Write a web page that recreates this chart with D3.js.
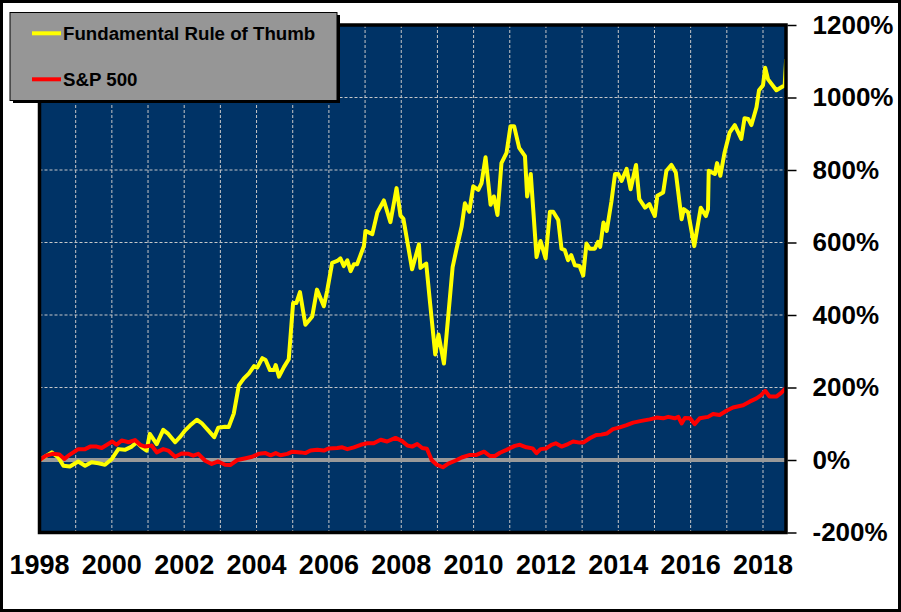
<!DOCTYPE html>
<html>
  <head>
    <meta charset="utf-8" />
    <title>Fundamental Rule of Thumb vs S&amp;P 500</title>
    <script src="https://cdn.jsdelivr.net/npm/d3@7"></script>
    <style type="text/css">
      body { margin: 0; background: #fff; }
      text { font-family: Arial, "Liberation Sans", sans-serif; font-weight: bold; }
    </style>
  </head>

  <body>
    <svg id="chart" width="901" height="612"></svg>
    <script type="text/javascript">
      // cumulative return, % -- [decimal year, value]
      var ruleOfThumb = [
        [1998.0, 0], [1998.34, 21], [1998.52, 7], [1998.66, -16], [1998.84, -18],
        [1999.07, -4], [1999.26, -16], [1999.44, -6], [1999.63, -9], [1999.81, -13],
        [2000.0, 3], [2000.18, 30], [2000.36, 28], [2000.55, 37], [2000.69, 49],
        [2000.83, 35], [2000.96, 26], [2001.05, 72], [2001.24, 44], [2001.42, 83],
        [2001.56, 72], [2001.75, 49], [2001.88, 63], [2002.02, 81], [2002.16, 95],
        [2002.35, 111], [2002.48, 102], [2002.67, 81], [2002.83, 63], [2002.94, 89],
        [2003.13, 92], [2003.23, 91], [2003.37, 128], [2003.51, 206], [2003.65, 225],
        [2003.79, 239], [2003.93, 259], [2004.02, 255], [2004.16, 281], [2004.25, 276],
        [2004.37, 248], [2004.48, 248], [2004.53, 262], [2004.62, 230], [2004.76, 257],
        [2004.89, 278], [2005.01, 433], [2005.1, 433], [2005.2, 463], [2005.35, 373],
        [2005.54, 396], [2005.67, 470], [2005.86, 424], [2005.95, 466], [2006.09, 544],
        [2006.23, 549], [2006.32, 556], [2006.41, 535], [2006.51, 551], [2006.6, 521],
        [2006.69, 540], [2006.78, 540], [2006.97, 591], [2007.01, 632], [2007.2, 623],
        [2007.34, 683], [2007.52, 716], [2007.7, 656], [2007.8, 711], [2007.87, 750],
        [2007.98, 674], [2008.06, 665], [2008.3, 526], [2008.49, 595], [2008.53, 530],
        [2008.69, 542], [2008.8, 430], [2008.94, 291], [2009.03, 346], [2009.18, 266],
        [2009.3, 398], [2009.42, 532], [2009.53, 583], [2009.67, 644], [2009.76, 708],
        [2009.88, 685], [2009.99, 755], [2010.13, 745], [2010.22, 764], [2010.33, 835],
        [2010.47, 704], [2010.56, 727], [2010.66, 676], [2010.77, 819], [2010.91, 847],
        [2011.02, 921], [2011.12, 921], [2011.26, 861], [2011.42, 838], [2011.48, 727],
        [2011.58, 789], [2011.74, 560], [2011.85, 604], [2011.99, 556], [2012.11, 685],
        [2012.2, 685], [2012.34, 662], [2012.43, 583], [2012.52, 579], [2012.61, 551],
        [2012.7, 565], [2012.8, 537], [2012.93, 535], [2013.03, 509], [2013.12, 597],
        [2013.21, 583], [2013.35, 583], [2013.44, 602], [2013.5, 588], [2013.59, 655],
        [2013.68, 632], [2013.81, 713], [2013.91, 789], [2014.0, 789], [2014.09, 770],
        [2014.23, 803], [2014.34, 747], [2014.49, 814], [2014.58, 720], [2014.74, 696],
        [2014.86, 706], [2014.92, 692], [2015.01, 673], [2015.08, 729], [2015.24, 738],
        [2015.33, 798], [2015.47, 814], [2015.59, 793], [2015.75, 664], [2015.81, 692],
        [2015.93, 683], [2016.1, 590], [2016.28, 696], [2016.42, 673], [2016.48, 692],
        [2016.5, 798], [2016.67, 789], [2016.73, 819], [2016.82, 784], [2016.94, 849],
        [2017.08, 904], [2017.22, 924], [2017.4, 886], [2017.49, 943], [2017.59, 941],
        [2017.68, 924], [2017.82, 973], [2017.89, 1020], [2018.0, 1034], [2018.06, 1082],
        [2018.14, 1050], [2018.37, 1020], [2018.6, 1034], [2018.64, 1106]
      ];

      var sp500 = [
        [1998.0, 0], [1998.18, 12], [1998.36, 17], [1998.55, 15], [1998.69, 3],
        [1998.84, 15], [1999.07, 30], [1999.26, 30], [1999.4, 37], [1999.58, 37],
        [1999.72, 33], [1999.9, 44], [2000.01, 51], [2000.13, 42], [2000.27, 54],
        [2000.46, 49], [2000.64, 55], [2000.78, 42], [2000.92, 37], [2001.1, 40],
        [2001.24, 21], [2001.42, 30], [2001.56, 26], [2001.75, 9], [2001.93, 18],
        [2002.12, 17], [2002.25, 12], [2002.39, 17], [2002.58, -2], [2002.76, -11],
        [2002.94, -4], [2003.13, -13], [2003.27, -14], [2003.47, 0], [2003.7, 5],
        [2003.88, 9], [2004.06, 17], [2004.25, 19], [2004.39, 13], [2004.53, 19],
        [2004.66, 13], [2004.85, 17], [2004.99, 23], [2005.22, 21], [2005.35, 19],
        [2005.49, 26], [2005.68, 28], [2005.86, 26], [2006.0, 32], [2006.23, 33],
        [2006.37, 35], [2006.51, 30], [2006.69, 35], [2006.88, 42], [2007.06, 46],
        [2007.24, 46], [2007.43, 56], [2007.61, 51], [2007.84, 61], [2008.03, 52],
        [2008.17, 40], [2008.3, 37], [2008.44, 44], [2008.58, 33], [2008.71, 31],
        [2008.84, 0], [2008.98, -13], [2009.15, -20], [2009.3, -10], [2009.49, -2],
        [2009.67, 7], [2009.9, 14], [2010.08, 14], [2010.29, 23], [2010.45, 11],
        [2010.59, 11], [2010.73, 20], [2010.91, 28], [2011.14, 39], [2011.28, 42],
        [2011.46, 35], [2011.63, 32], [2011.74, 19], [2011.85, 30], [2012.01, 32],
        [2012.15, 42], [2012.27, 46], [2012.43, 37], [2012.61, 44], [2012.75, 51],
        [2012.93, 48], [2013.03, 48], [2013.21, 60], [2013.39, 69], [2013.53, 70],
        [2013.68, 73], [2013.85, 85], [2014.04, 90], [2014.23, 96], [2014.41, 103],
        [2014.64, 108], [2014.87, 112], [2015.06, 117], [2015.24, 115], [2015.38, 119],
        [2015.56, 115], [2015.66, 119], [2015.75, 101], [2015.84, 116], [2015.98, 115],
        [2016.11, 99], [2016.25, 115], [2016.48, 119], [2016.62, 127], [2016.8, 124],
        [2016.99, 136], [2017.17, 145], [2017.45, 151], [2017.63, 161], [2017.82, 170],
        [2017.95, 179], [2018.06, 191], [2018.18, 175], [2018.37, 175], [2018.51, 186],
        [2018.64, 200]
      ];

      var seriesNames = ['Fundamental Rule of Thumb', 'S&P 500'];
      var seriesColors = ['#ffff00', '#ff0000'];
      var yearLabels = [1998, 2000, 2002, 2004, 2006, 2008, 2010, 2012, 2014, 2016, 2018];
      var yearGrid = d3.range(1999, 2019);
      var percentTicks = [-200, 0, 200, 400, 600, 800, 1000, 1200];
      var percentGrid = [200, 400, 600, 800, 1000];

      function drawChart() {
        var svg = d3.select('#chart');
        var pLeft = 39.5, pRight = 786, pTop = 25, pBottom = 532.5;

        var x = d3.scaleLinear().domain([1998, 2018]).range([pLeft, 763]);
        var y = d3.scaleLinear().domain([-200, 1200]).range([pBottom, pTop]);

        // outer frame
        svg.append('rect')
          .attr('x', 1.5).attr('y', 1.5).attr('width', 898).attr('height', 609)
          .attr('fill', '#fff').attr('stroke', '#000').attr('stroke-width', 3);

        // plot background
        svg.append('rect')
          .attr('x', pLeft).attr('y', pTop)
          .attr('width', pRight - pLeft).attr('height', pBottom - pTop)
          .attr('fill', '#003366');

        svg.append('clipPath').attr('id', 'plotClip')
          .append('rect')
          .attr('x', pLeft).attr('y', pTop)
          .attr('width', pRight - pLeft).attr('height', pBottom - pTop);

        // grid
        svg.append('g').selectAll('line')
          .data(yearGrid).enter().append('line')
          .attr('x1', (d) => x(d)).attr('x2', (d) => x(d))
          .attr('y1', pTop).attr('y2', pBottom)
          .attr('stroke', '#c8c8c8').attr('stroke-width', 1)
          .attr('stroke-dasharray', '3,2');

        svg.append('g').selectAll('line')
          .data(percentGrid).enter().append('line')
          .attr('x1', pLeft).attr('x2', pRight)
          .attr('y1', (d) => y(d)).attr('y2', (d) => y(d))
          .attr('stroke', '#c8c8c8').attr('stroke-width', 1)
          .attr('stroke-dasharray', '3,2');

        // zero line
        svg.append('line')
          .attr('x1', pLeft).attr('x2', pRight)
          .attr('y1', y(0)).attr('y2', y(0))
          .attr('stroke', '#999999').attr('stroke-width', 4);

        // series
        var line = d3.line()
          .x((d) => x(d[0]))
          .y((d) => y(d[1]));

        var lines = svg.append('g').attr('clip-path', 'url(#plotClip)');
        [ruleOfThumb, sp500].forEach(function (series, i) {
          lines.append('path')
            .datum(series)
            .attr('d', line)
            .attr('fill', 'none')
            .attr('stroke', seriesColors[i])
            .attr('stroke-width', 4)
            .attr('stroke-linejoin', 'round');
        });

        // plot border
        svg.append('rect')
          .attr('x', pLeft).attr('y', pTop)
          .attr('width', pRight - pLeft).attr('height', pBottom - pTop)
          .attr('fill', 'none').attr('stroke', '#000').attr('stroke-width', 3.5);

        // right axis
        var yAxis = d3.axisRight(y)
          .tickValues(percentTicks)
          .tickSize(9)
          .tickPadding(16)
          .tickFormat((d) => d + '%');

        var ga = svg.append('g')
          .attr('transform', 'translate(' + (pRight + 1.5) + ',0)')
          .call(yAxis);
        ga.select('.domain').remove();
        ga.selectAll('.tick line').attr('stroke', '#000').attr('stroke-width', 1.5);
        ga.selectAll('.tick text')
          .attr('fill', '#000')
          .style('font-size', '26px')
          .style('font-family', 'Arial, "Liberation Sans", sans-serif')
          .style('font-weight', 'bold');

        // year labels
        svg.append('g').selectAll('text')
          .data(yearLabels).enter().append('text')
          .attr('x', (d) => x(d))
          .attr('y', 574)
          .attr('text-anchor', 'middle')
          .style('font-size', '27px')
          .text((d) => d);

        // legend
        var lg = svg.append('g');
        lg.append('rect')
          .attr('x', 13).attr('y', 15).attr('width', 327).attr('height', 88)
          .attr('fill', '#000');
        lg.append('rect')
          .attr('x', 10).attr('y', 12.5).attr('width', 327).attr('height', 88)
          .attr('fill', '#969696').attr('stroke', '#000').attr('stroke-width', 1);

        var items = lg.selectAll('g.item')
          .data(seriesNames).enter().append('g')
          .attr('class', 'item')
          .attr('transform', (d, i) => 'translate(0,' + (33.3 + i * 46) + ')');
        items.append('line')
          .attr('x1', 32).attr('x2', 61)
          .attr('stroke', (d, i) => seriesColors[i])
          .attr('stroke-width', 4);
        items.append('text')
          .attr('x', 63).attr('y', 6.5)
          .attr('fill', '#000')
          .style('font-size', '18.7px')
          .text((d) => d);
      }

      drawChart();
    </script>
  </body>
</html>
